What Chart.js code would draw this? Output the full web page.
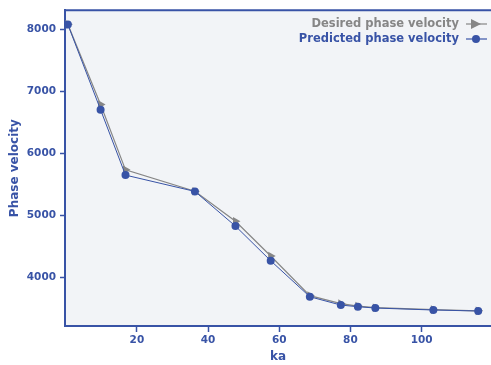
<!DOCTYPE html>
<html>
<head>
<meta charset="utf-8">
<script src="https://cdn.jsdelivr.net/npm/chart.js@4/dist/chart.umd.min.js"></script>
<style>
html,body{margin:0;padding:0;background:#fff;}
</style>
</head>
<body>
<canvas id="canvas" width="491" height="365"></canvas>
<script>
// phase velocity against ka
var ka = [0.6, 9.8, 16.8, 36.3, 47.7, 57.6, 68.6, 77.3, 82.1, 87.0, 103.3, 115.9];
var desired = [8085, 6790, 5735, 5390, 4905, 4345, 3705, 3575, 3535, 3510, 3478, 3460];
var predicted = [8081, 6705, 5650, 5387, 4827, 4268, 3687, 3553, 3526, 3505, 3473, 3457];
var xTicks = [20, 40, 60, 80, 100];
var yTicks = [4000, 5000, 6000, 7000, 8000];
var seriesNames = ['Desired phase velocity', 'Predicted phase velocity'];

var blue = '#3853a6';
var grey = '#868686';
var FONT = '"DejaVu Sans", Verdana, sans-serif';

function pts(xs, ys){
    return xs.map(function(x, i){ return {x: x, y: ys[i]}; });
}

// grey plot background + top frame line
var frame = {
    id: 'frame',
    beforeDraw: function(chart){
        var a = chart.chartArea, ctx = chart.ctx;
        ctx.save();
        ctx.fillStyle = '#f2f4f7';
        ctx.fillRect(a.left, a.top, a.right - a.left, a.bottom - a.top);
        ctx.strokeStyle = blue;
        ctx.lineWidth = 2;
        ctx.beginPath();
        ctx.moveTo(a.left, a.top);
        ctx.lineTo(a.right, a.top);
        ctx.stroke();
        ctx.restore();
    }
};

// legend in the top right corner, sample line on the right of the text
var legendRight = {
    id: 'legendRight',
    afterDraw: function(chart){
        var ctx = chart.ctx;
        var rows = [
            {text: seriesNames[0], color: grey, y: 24, shape: 'tri'},
            {text: seriesNames[1], color: blue, y: 39, shape: 'dot'}
        ];
        ctx.save();
        ctx.font = 'bold 11.5px ' + FONT;
        ctx.textAlign = 'right';
        ctx.textBaseline = 'middle';
        rows.forEach(function(r){
            ctx.fillStyle = r.color;
            ctx.fillText(r.text, 459, r.y);
            ctx.strokeStyle = r.color;
            ctx.lineWidth = 1.2;
            ctx.beginPath();
            ctx.moveTo(466, r.y);
            ctx.lineTo(487, r.y);
            ctx.stroke();
            ctx.fillStyle = r.color;
            ctx.beginPath();
            if (r.shape == 'tri') {
                ctx.moveTo(481, r.y);
                ctx.lineTo(471, r.y - 5);
                ctx.lineTo(471, r.y + 5);
                ctx.closePath();
            } else {
                ctx.arc(476, r.y, 4, 0, Math.PI * 2);
            }
            ctx.fill();
        });
        ctx.restore();
    }
};

Chart.defaults.font.family = FONT;
Chart.defaults.font.weight = 'bold';

const ctx = document.getElementById('canvas').getContext('2d');
const chart = new Chart(ctx, {
    type: 'line',
    data: {
        datasets: [{
            label: seriesNames[0],
            data: pts(ka, desired),
            borderColor: grey,
            backgroundColor: grey,
            borderWidth: 1.2,
            pointStyle: 'triangle',
            rotation: 90,
            pointRadius: 5,
            pointBorderWidth: 0,
            order: 2
        },
        {
            label: seriesNames[1],
            data: pts(ka, predicted),
            borderColor: blue,
            backgroundColor: blue,
            borderWidth: 1,
            pointStyle: 'circle',
            pointRadius: 4,
            pointBorderWidth: 0,
            order: 1
        }]
    },
    options: {
        responsive: false,
        animation: false,
        devicePixelRatio: 1,
        layout: {autoPadding: false, padding: {top: 10, right: 0, left: 0, bottom: 0}},
        elements: {line: {tension: 0}},
        plugins: {legend: {display: false}, tooltip: {enabled: false}},
        scales: {
            x: {
                type: 'linear',
                min: -0.2,
                max: 119.5,
                afterBuildTicks: function(s){ s.ticks = xTicks.map(function(v){ return {value: v}; }); },
                afterFit: function(s){ s.height = 39; },
                border: {color: blue, width: 2},
                grid: {drawOnChartArea: false, color: blue, tickLength: 6, tickWidth: 1.5},
                ticks: {color: blue, font: {size: 10.5, weight: 'bold'}, padding: 2, maxRotation: 0, autoSkip: false,
                        callback: function(v){ return String(v); }},
                title: {display: true, text: 'ka', color: blue, font: {size: 12, weight: 'bold'}, padding: {top: 0, bottom: 1}}
            },
            y: {
                min: 3215,
                max: 8310,
                afterBuildTicks: function(s){ s.ticks = yTicks.map(function(v){ return {value: v}; }); },
                afterFit: function(s){ s.width = 65; },
                border: {color: blue, width: 2},
                grid: {drawOnChartArea: false, color: blue, tickLength: 5, tickWidth: 1.5},
                ticks: {color: blue, font: {size: 10.5, weight: 'bold'}, padding: 4,
                        callback: function(v){ return String(v); }},
                title: {display: true, text: 'Phase velocity', color: blue, font: {size: 12, weight: 'bold'}, padding: {top: 8, bottom: 0}}
            }
        }
    },
    plugins: [frame, legendRight]
});
</script>
</body>
</html>
